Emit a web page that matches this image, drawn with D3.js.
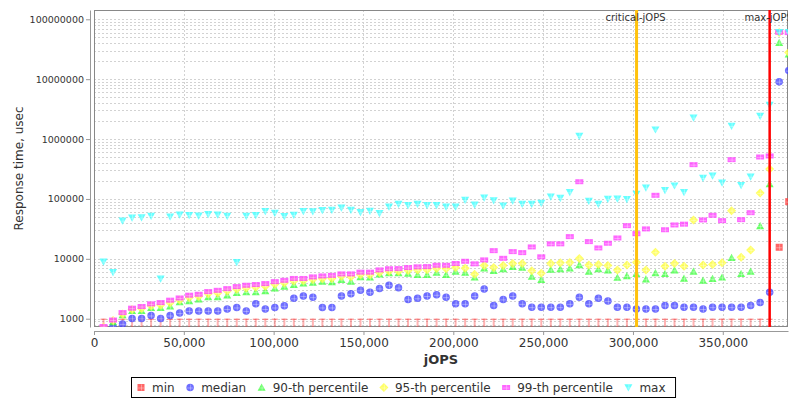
<!DOCTYPE html>
<html>
<head>
<meta charset="utf-8">
<script src="https://cdn.jsdelivr.net/npm/d3@7"></script>
<style>
body { margin: 0; background: #fff; }
text { font-family: "DejaVu Sans", sans-serif; fill: #333; }
</style>
</head>
<body>
<svg id="chart" width="800" height="400"></svg>
<script>
// jOPS steps (x values)
var jops = [5297, 10594, 15891, 21188, 26485, 31782, 37079, 42376, 47673, 52970,
  58267, 63564, 68861, 74158, 79455, 84752, 90049, 95346, 100643, 105940,
  111237, 116534, 121831, 127128, 132425, 137722, 143019, 148316, 153613, 158910,
  164207, 169504, 174801, 180098, 185395, 190692, 195989, 201286, 206583, 211880,
  217177, 222474, 227771, 233068, 238365, 243662, 248959, 254256, 259553, 264850,
  270147, 275444, 280741, 286038, 291335, 296632, 301929, 307226, 312523, 317820,
  323117, 328414, 333711, 339008, 344305, 349602, 354899, 360196, 365493, 370790,
  376087, 381384, 386681];

var minRt = [1000, 1000, 1000, 1000, 1000, 1000, 1000, 1000, 1000, 1000,
  1000, 1000, 1000, 1000, 1000, 1000, 1000, 1000, 1000, 1000,
  1000, 1000, 1000, 1000, 1000, 1000, 1000, 1000, 1000, 1000,
  1000, 1000, 1000, 1000, 1000, 1000, 1000, 1000, 1000, 1000,
  1000, 1000, 1000, 1000, 1000, 1000, 1000, 1000, 1000, 1000,
  1000, 1000, 1000, 1000, 1000, 1000, 1000, 1000, 1000, 1000,
  1000, 1000, 1000, 1000, 1000, 1000, 1000, 1000, 1000, 1000,
  1000, 15600, 90200];

var medianRt = [620, 740, 820, 1010, 1010, 1130, 1010, 1130, 1240, 1350,
  1350, 1350, 1350, 1450, 1540, 1350, 1770, 1450, 1540, 1640,
  2190, 2400, 2290, 1540, 1540, 2400, 2600, 2980, 2770, 3200,
  3620, 3300, 2100, 2190, 2390, 2510, 2290, 1770, 1770, 2390,
  3130, 1660, 2100, 2390, 1770, 1560, 1560, 1560, 1560, 1770,
  2290, 1770, 2190, 1980, 1560, 1560, 1450, 1450, 1450, 1660,
  1660, 1560, 1560, 1450, 1560, 1560, 1560, 1560, 1660, 1860,
  2770, 9080000, 13900000];

var p90Rt = [680, 880, 1150, 1350, 1350, 1520, 1520, 1610, 1900, 1980,
  2100, 2300, 2300, 2470, 2700, 2790, 2790, 2900, 3230, 3440,
  3700, 3910, 4000, 4160, 4100, 4480, 4190, 4950, 4900, 5500,
  5800, 5800, 5700, 5400, 5400, 5900, 5400, 6140, 5900, 4900,
  6950, 6300, 6720, 7350, 7150, 5050, 4480, 6600, 6720, 6950,
  7900, 6140, 6720, 6430, 4850, 5150, 5600, 4560, 5780, 5600,
  6430, 4700, 6140, 4330, 4630, 4900, 10400, 5600, 6140, 35400,
  178000, 40700000, 26000000];

var p95Rt = [720, 930, 1200, 1420, 1480, 1650, 1700, 1850, 2050, 2250,
  2350, 2600, 2700, 2900, 3100, 3250, 3350, 3500, 3750, 3950,
  4250, 4300, 4500, 4650, 4700, 5100, 5000, 5400, 5400, 5900,
  6200, 6200, 6400, 6500, 6600, 6900, 6800, 7150, 6950, 5530,
  7730, 7170, 7730, 8350, 8350, 6300, 5750, 8350, 8600, 8650,
  10100, 7900, 8050, 7700, 6530, 7900, 8770, 6530, 12900, 7530,
  8350, 7530, 44600, 7900, 8050, 8600, 63800, 10600, 14100, 126000,
  317000, 60000000, 28000000];

var p99Rt = [740, 950, 1265, 1500, 1600, 1770, 1860, 2040, 2220, 2470,
  2560, 2840, 2980, 3180, 3440, 3620, 3720, 3860, 4160, 4380,
  4700, 4700, 4990, 5180, 5300, 5600, 5600, 5990, 5990, 6530,
  6830, 6870, 7150, 7350, 7420, 7800, 7800, 8350, 9100, 8250,
  9600, 13700, 10200, 13200, 12700, 15800, 10800, 17800, 17800, 23500,
  194000, 19400, 15200, 18200, 22300, 35800, 26300, 31600, 115000, 30600,
  36800, 37900, 374000, 44600, 53300, 43400, 453000, 45100, 59000, 502000,
  522000, 60700000, 60000000];

var maxRt = [8980, 5970, 43400, 48700, 48900, 52000, 4670, 50700, 54700, 53500,
  52600, 55400, 54700, 52000, 8770, 52000, 53500, 62400, 58400, 51400,
  54100, 62400, 61600, 64600, 65500, 71600, 65500, 60000, 63000, 57700,
  74400, 82400, 78500, 82400, 78500, 78500, 74400, 74400, 96200, 80000,
  105000, 94000, 77300, 93700, 82400, 82400, 85600, 109000, 104000, 129000,
  1130000, 92700, 82400, 100000, 101000, 99000, 121000, 154000, 1440000, 140000,
  167000, 129000, 2280000, 224000, 245000, 187000, 1660000, 169000, 235000, 2430000,
  3710000, 60700000, 60700000];

var criticalJops = 302000;
var maxJops = 376087;

var xTicks = [0, 50000, 100000, 150000, 200000, 250000, 300000, 350000];
var yTicks = [1000, 10000, 100000, 1000000, 10000000, 100000000];

var seriesNames = ["min", "median", "90-th percentile", "95-th percentile", "99-th percentile", "max"];
var seriesColors = ["#ff4040", "#4848ff", "#40ff40", "#ffff40", "#ff40ff", "#40ffff"];
var seriesShapes = ["square", "circle", "triangle", "diamond", "rect", "triangleDown"];
var seriesValues = [minRt, medianRt, p90Rt, p95Rt, p99Rt, maxRt];

var svg = d3.select("#chart"),
    margin = {top: 10, right: 12, bottom: 73, left: 94},
    width = 800 - margin.left - margin.right,
    height = 400 - margin.top - margin.bottom;

svg.append("rect").attr("width", 800).attr("height", 400).attr("fill", "#fff");

var x = d3.scaleLinear().domain([0, 386300]).range([0, width]);
var y = d3.scaleLog().domain([727, 1.43e8]).range([height, 0]);

var g = svg.append("g")
    .attr("transform", "translate(" + margin.left + "," + margin.top + ")");

svg.append("defs").append("clipPath").attr("id", "plotClip")
  .append("rect").attr("width", width).attr("height", height);

// grid lines
var gridVals = [];
for (var k = 2; k <= 8; k++) {
  for (var m = 1; m <= 9; m++) {
    var v = m * Math.pow(10, k);
    if (v >= y.domain()[0] && v <= y.domain()[1]) gridVals.push(v);
  }
}
g.append("g").selectAll("line").data(gridVals).enter().append("line")
    .attr("x1", 0).attr("x2", width)
    .attr("y1", function(d) { return Math.round(y(d)) + 0.5; })
    .attr("y2", function(d) { return Math.round(y(d)) + 0.5; })
    .attr("stroke", "#d2d2d2").attr("stroke-dasharray", "2,2");

g.append("g").selectAll("line").data(xTicks.slice(1)).enter().append("line")
    .attr("x1", function(d) { return Math.round(x(d)) + 0.5; })
    .attr("x2", function(d) { return Math.round(x(d)) + 0.5; })
    .attr("y1", 0).attr("y2", height)
    .attr("stroke", "#d2d2d2").attr("stroke-dasharray", "2,2");

// axes (offset from plot like jfreechart)
var xAxis = g.append("g")
    .attr("class", "axis axis--x")
    .attr("transform", "translate(0," + (height + 4) + ")")
    .call(d3.axisBottom(x).tickValues(xTicks).tickFormat(d3.format(",")).tickSizeInner(4).tickSizeOuter(0));
xAxis.select(".domain").attr("stroke", "#999");
xAxis.selectAll(".tick line").attr("stroke", "#999");
xAxis.selectAll(".tick text").attr("font-size", 12).attr("fill", "#333").attr("y", 7);

var yAxis = g.append("g")
    .attr("class", "axis axis--y")
    .attr("transform", "translate(-4,0)")
    .call(d3.axisLeft(y).tickValues(yTicks).tickFormat(d3.format("d")).tickSizeInner(4).tickSizeOuter(0));
yAxis.select(".domain").attr("stroke", "#999");
yAxis.selectAll(".tick line").attr("stroke", "#999");
yAxis.selectAll(".tick text").attr("font-size", 9.5).attr("fill", "#333").attr("x", -6);

// plot border
g.append("rect").attr("x", 0.5).attr("y", 0.5).attr("width", width - 1).attr("height", height - 1)
    .attr("fill", "none").attr("stroke", "#888");

// axis titles
svg.append("text")
    .attr("transform", "translate(23," + (margin.top + height / 2) + ") rotate(-90)")
    .attr("text-anchor", "middle")
    .attr("font-size", 12)
    .text("Response time, usec");

svg.append("text")
    .attr("x", margin.left + width / 2)
    .attr("y", 364)
    .attr("text-anchor", "middle")
    .attr("font-size", 13)
    .attr("font-weight", "bold")
    .text("jOPS");

function shapePath(shape) {
  if (shape == "square") return "M-3.5,-3.5h7v7h-7z";
  if (shape == "circle") return d3.symbol().type(d3.symbolCircle).size(44)();
  if (shape == "triangle") return "M0,-4L4,3.2L-4,3.2Z";
  if (shape == "diamond") return "M0,-4.5L4.5,0L0,4.5L-4.5,0Z";
  if (shape == "rect") return "M-4,-2.5h8v5h-8z";
  return "M-4,-3.2L4,-3.2L0,4Z";
}

function drawMarker(sel, shape, color) {
  sel.append("path").attr("d", shapePath(shape)).attr("fill", color).attr("fill-opacity", 0.8);
  sel.append("path").attr("d", "M-3,0.5H3M0.5,-3V3")
      .attr("stroke", "#fff").attr("stroke-opacity", 0.35).attr("stroke-width", 1);
}

var plot = g.append("g").attr("clip-path", "url(#plotClip)");

seriesValues.forEach(function(vals, s) {
  var sg = plot.append("g").attr("class", "series-" + s);
  vals.forEach(function(v, i) {
    var px = x(jops[i]), py = y(v);
    var mk = sg.append("g").attr("transform", "translate(" + px + "," + py + ")");
    if (s == 0 && v <= 1000) {
      // min at the 1 ms floor: drawn as a tick with a faint stem
      mk.append("line").attr("x1", 0).attr("x2", 0).attr("y1", 0).attr("y2", height - py)
          .attr("stroke", "#ff4040").attr("stroke-opacity", 0.4).attr("stroke-width", 2);
      mk.append("line").attr("x1", -3).attr("x2", 3).attr("y1", 0.5).attr("y2", 0.5)
          .attr("stroke", "#ff4040").attr("stroke-opacity", 0.7).attr("stroke-width", 1);
    } else {
      drawMarker(mk, seriesShapes[s], seriesColors[s]);
    }
  });
});

// critical-jOPS and max-jOPS markers
var markers = [
  {name: "critical-jOPS", value: criticalJops, color: "#ffc20e", w: 3},
  {name: "max-jOPS", value: maxJops, color: "#ff0000", w: 2.5}
];
markers.forEach(function(d) {
  plot.append("line")
      .attr("x1", x(d.value)).attr("x2", x(d.value))
      .attr("y1", 0).attr("y2", height)
      .attr("stroke", d.color).attr("stroke-width", d.w);
  plot.append("text")
      .attr("x", x(d.value) - 1).attr("y", 11)
      .attr("text-anchor", "middle")
      .attr("font-size", 10)
      .attr("fill", "#222")
      .text(d.name);
});

// legend
var legend = svg.append("g").attr("class", "legend");
var lx = 141, ly = 387.5;
var box = legend.append("rect").attr("y", 377.5).attr("height", 20)
    .attr("fill", "#fff").attr("stroke", "#000");
seriesNames.forEach(function(name, s) {
  var mk = legend.append("g").attr("transform", "translate(" + lx + "," + ly + ")");
  drawMarker(mk, seriesShapes[s], seriesColors[s]);
  var t = legend.append("text").attr("x", lx + 11).attr("y", ly + 4.3)
      .attr("font-size", 12).text(name);
  lx = lx + 11 + t.node().getComputedTextLength() + 15.5;
});
box.attr("x", 131.5).attr("width", lx - 15.5 + 10 - 131.5);
</script>
</body>
</html>
